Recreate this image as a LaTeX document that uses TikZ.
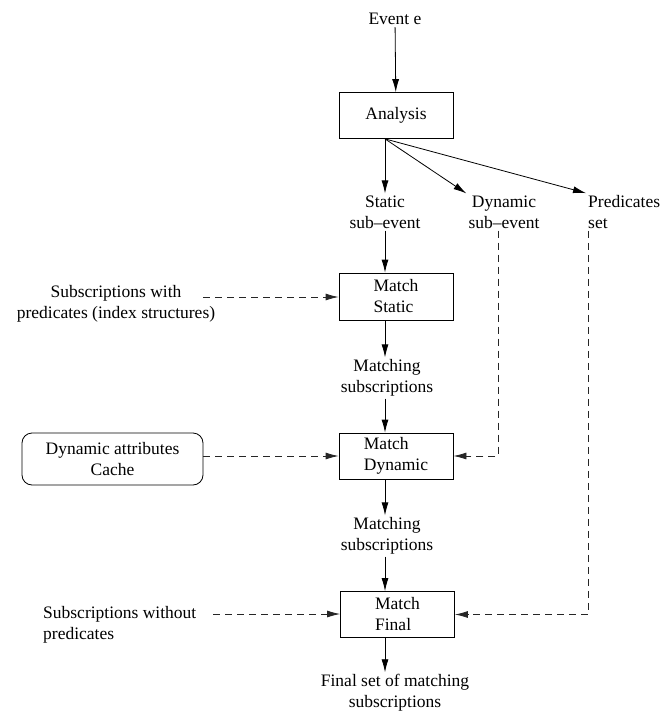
\documentclass[tikz,border=0pt]{standalone}
\usepackage{fontspec}
\setmainfont{Liberation Serif}
\usetikzlibrary{arrows.meta}

\tikzset{
  stage/.style={draw, line width=0.8pt, minimum width=114pt, minimum height=46pt, inner sep=2pt, align=left},
  lbl/.style={align=center, inner sep=2pt},
  flow/.style={->, line width=0.8pt},
  feed/.style={->, line width=0.8pt, draw=black!85, dash pattern=on 7pt off 5pt},
}

\begin{document}
\begin{tikzpicture}[x=1pt,y=-1pt,>={Latex[length=13pt,width=7pt]},
    font=\fontsize{17.5}{21}\selectfont]
  \useasboundingbox (0,0) rectangle (664,711);

  % main column
  \node[lbl] (event) at (395,19) {Event e};
  \node[stage, align=center] (analysis) at (396,115.5) {Analysis};
  \node[lbl] (sstat) at (385,212) {Static\\sub--event};
  \node[lbl] (sdyn) at (504,212) {Dynamic\\sub--event};
  \node[lbl, align=left, anchor=west] (pset) at (586,212) {Predicates\\set};
  \node[stage, minimum height=47pt] (mstat) at (396,296.5) {Match\\Static};
  \node[lbl] (m1) at (387,378) {Matching\\subscriptions};
  \node[stage] (mdyn) at (396,456) {Match\\Dynamic};
  \node[lbl] (m2) at (387,536) {Matching\\subscriptions};
  \node[stage] (mfinal) at (397.5,614.5) {Match\\Final};
  \node[lbl] (final) at (395,693) {Final set of matching\\subscriptions};

  % side inputs
  \node[lbl] (subwith) at (116,304) {Subscriptions with\\predicates (index structures)};
  \node[draw, line width=0.8pt, rounded corners=10pt, minimum width=181pt, minimum height=52pt, align=center]
    (cache) at (112.5,459) {Dynamic attributes\\Cache};
  \node[lbl, align=left, anchor=west] (subwo) at (41,625) {Subscriptions without\\predicates};
  \coordinate (swend) at (203,297);
  \coordinate (swoend) at (213,614);

  % solid arrows
  \draw[flow] (event) -- (analysis);
  \draw[flow] (analysis.south -| sstat.north) -- (sstat.north);
  \draw[flow] (analysis.south -| sstat.north) -- (sdyn.north west);
  \draw[flow] (analysis.south -| sstat.north) -- (pset.north west);
  \draw[flow] (sstat.south) -- (mstat.north -| sstat.south);
  \draw[flow] (mstat.south -| sstat.south) -- (sstat.south |- m1.north);
  \draw[flow] (sstat.south |- m1.south) -- (mdyn.north -| sstat.south);
  \draw[flow] (mdyn.south -| sstat.south) -- (sstat.south |- m2.north);
  \draw[flow] (sstat.south |- m2.south) -- (mfinal.north -| sstat.south);
  \draw[flow] (mfinal.south -| sstat.south) -- (sstat.south |- final.north);

  % dashed inputs
  \draw[feed] (swend) -- (mstat.west |- swend);
  \draw[feed] (cache.east |- mdyn.west) -- (mdyn.west);
  \draw[feed] ([xshift=-6pt]sdyn.south) |- (mdyn.east);
  \draw[feed] ([xshift=2pt]pset.south west) |- (mfinal.east);
  \draw[feed] (swoend) -- (mfinal.west |- swoend);
\end{tikzpicture}
\end{document}
